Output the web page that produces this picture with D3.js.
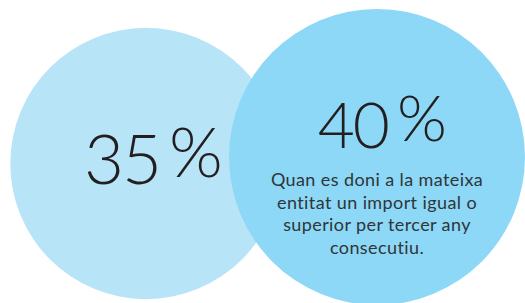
<!DOCTYPE html>
<html>
<head>
<meta charset="utf-8">
<script src="https://cdn.jsdelivr.net/npm/d3@7"></script>
<style>
  html, body { margin: 0; padding: 0; background: #fff; }
  svg { display: block; }
</style>
</head>
<body>
<svg id="chart"></svg>
<script>
const ids = ["a", "b"];
const values = [35, 40];
const fills = ["#b8e4f8", "#8dd8f6"];
const captions = [
  [],
  ["Quan es doni a la mateixa", "entitat un import igual o", "superior per tercer any", "consecutiu."],
];

const width = 525;
const height = 303;

const svg = d3.select("#chart").attr("width", width).attr("height", height);

const data = ids.map((id, i) => ({ id, value: values[i], fill: fills[i], caption: captions[i] }));

const x = d3.scalePoint().domain(ids).range([146, 377]);
const r = d3.scalePow().exponent(0.65).domain([0, d3.max(values)]).range([0, 148]);
const cyOffset = { a: 163.5, b: 157 };

const groups = svg.selectAll("g.bubble")
  .data(data, (d) => d.id)
  .join("g")
  .attr("class", "bubble")
  .attr("transform", (d) => `translate(${x(d.id)},${cyOffset[d.id]})`);

groups.append("circle")
  .attr("r", (d) => r(d.value))
  .attr("fill", (d) => d.fill);

// big numbers, the percent sign is set apart and raised
const numStyle = { a: { x: 14, y: 20, size: 69 }, b: { x: 11, y: -9, size: 64 } };

groups.append("text")
  .attr("x", (d) => numStyle[d.id].x)
  .attr("y", (d) => numStyle[d.id].y)
  .attr("text-anchor", "end")
  .attr("font-family", "Lato, sans-serif")
  .attr("font-weight", 300)
  .attr("font-size", (d) => numStyle[d.id].size)
  .attr("letter-spacing", -2)
  .attr("fill", "#231f20")
  .text((d) => d.value);

groups.append("text")
  .attr("x", (d) => numStyle[d.id].x + 9)
  .attr("y", (d) => numStyle[d.id].y - 7)
  .attr("text-anchor", "start")
  .attr("font-family", "Lato, sans-serif")
  .attr("font-weight", 300)
  .attr("font-size", (d) => numStyle[d.id].size)
  .attr("fill", "#231f20")
  .text("%");

groups.append("text")
  .attr("text-anchor", "middle")
  .attr("font-family", "Lato, sans-serif")
  .attr("font-weight", 400)
  .attr("font-size", 18)
  .attr("letter-spacing", 0.4)
  .attr("fill", "#2f3538")
  .selectAll("tspan")
  .data((d) => d.caption)
  .join("tspan")
  .attr("x", 0)
  .attr("y", (d, i) => 29 + i * 22.7)
  .text((d) => d);
</script>
</body>
</html>
